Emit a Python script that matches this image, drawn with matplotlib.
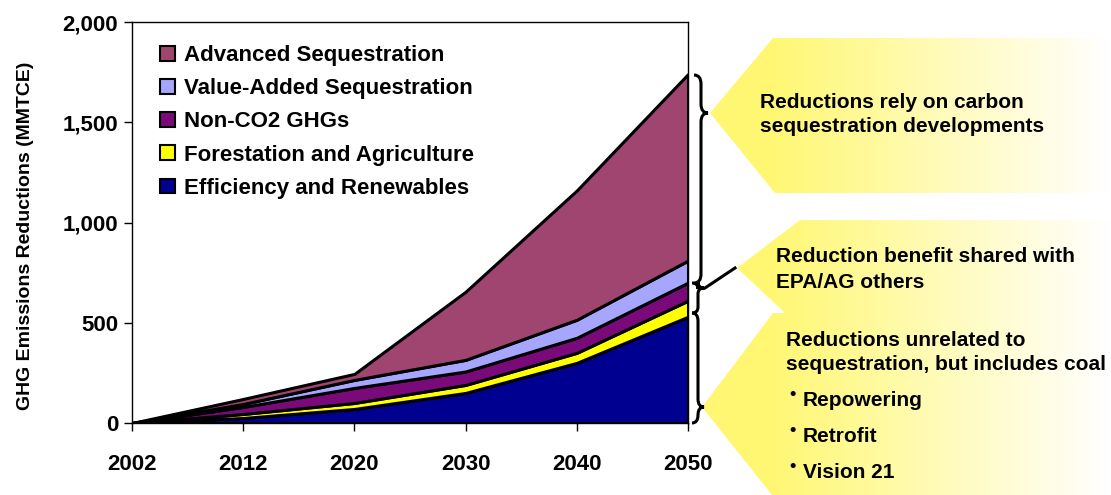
import numpy as np
import matplotlib.pyplot as plt
from matplotlib.patches import Polygon, PathPatch, Patch
from matplotlib.path import Path
from matplotlib.ticker import FuncFormatter

plt.rcParams['font.family'] = ['Liberation Sans', 'DejaVu Sans']

# data (MMTCE)
years = ['2002', '2012', '2020', '2030', '2040', '2050']
efficiency = [0, 25, 70, 150, 300, 530]
forestation = [0, 20, 30, 40, 50, 80]
non_co2 = [0, 35, 75, 67, 75, 90]
value_added = [0, 15, 40, 58, 90, 110]
advanced = [0, 25, 30, 340, 645, 930]

labels = ['Efficiency and Renewables', 'Forestation and Agriculture',
          'Non-CO2 GHGs', 'Value-Added Sequestration', 'Advanced Sequestration']
colors = ['#000090', '#FFFF00', '#7A0A7A', '#A6A6FF', '#A04470']

fig = plt.figure(figsize=(11.11, 4.95), dpi=100)
ax = fig.add_axes([132/1111, 72/495, 556/1111, 401/495])

x = np.arange(len(years))
ax.stackplot(x, efficiency, forestation, non_co2, value_added, advanced,
             colors=colors, edgecolor='black', linewidth=2.2)

ax.set_xlim(0, len(years)-1)
ax.set_ylim(0, 2000)
ax.set_xticks(x)
ax.set_xticklabels(years)
ax.set_yticks([0, 500, 1000, 1500, 2000])
ax.yaxis.set_major_formatter(FuncFormatter(lambda v, p: '{:,.0f}'.format(v)))
ax.tick_params(axis='y', length=6, width=1, pad=4, labelsize=16)
ax.tick_params(axis='x', length=6, width=1, pad=16, labelsize=16)
for lab in ax.get_xticklabels() + ax.get_yticklabels():
    lab.set_fontweight('bold')
for s in ax.spines.values():
    s.set_linewidth(1)
ax.set_ylabel('GHG Emissions Reductions (MMTCE)', fontsize=14,
              fontweight='bold')
ax.yaxis.set_label_coords(-0.176, 0.468)

handles = [Patch(facecolor=c, edgecolor='black', linewidth=1.5, label=l)
           for c, l in zip(colors, labels)][::-1]
ax.legend(handles=handles, loc='upper left', bbox_to_anchor=(0.035, 0.965),
          frameon=False, prop={'size': 16, 'weight': 'bold'},
          handlelength=0.65, handleheight=0.65, handletextpad=0.4,
          labelspacing=0.55, borderaxespad=0)

# overlay in pixel coords for the callouts
ov = fig.add_axes([0, 0, 1, 1])
ov.set_xlim(0, 1111)
ov.set_ylim(495, 0)
ov.axis('off')
ov.patch.set_alpha(0)

yel = np.array([1.0, 0.97, 0.45])
xs = np.linspace(695, 1111, 400)
t = np.clip((xs - 770) / (1111 - 770), 0, 1)
grad = yel[None, :] * (1 - t[:, None]) + np.ones(3)[None, :] * t[:, None]
grad = grad[None, :, :]

callouts = [
    [(710, 113), (773, 38), (1111, 38), (1111, 193), (775, 193)],
    [(737, 268), (800, 220), (1111, 220), (1111, 313), (785, 313)],
    [(702, 407), (773, 313), (1111, 313), (1111, 495), (772, 495)],
]
for pts in callouts:
    poly = Polygon(pts, closed=True, facecolor='none', edgecolor='none')
    ov.add_patch(poly)
    im = ov.imshow(grad, extent=[695, 1111, 495, 0], aspect='auto', zorder=1)
    im.set_clip_path(poly)
ov.set_xlim(0, 1111)
ov.set_ylim(495, 0)


def brace(xs_, y0, y1, ym, w=7, r=9):
    xe, xt = xs_ - w, xs_ + w
    verts = [(xe, y0), (xs_, y0), (xs_, y0 + r),
             (xs_, ym - r),
             (xs_, ym), (xt, ym),
             (xs_, ym), (xs_, ym + r),
             (xs_, y1 - r),
             (xs_, y1), (xe, y1)]
    codes = [Path.MOVETO, Path.CURVE3, Path.CURVE3,
             Path.LINETO,
             Path.CURVE3, Path.CURVE3,
             Path.CURVE3, Path.CURVE3,
             Path.LINETO,
             Path.CURVE3, Path.CURVE3]
    ov.add_patch(PathPatch(Path(verts, codes), facecolor='none',
                           edgecolor='black', linewidth=2.2, zorder=3))


brace(701, 75, 283, 113)
brace(698, 283, 313, 288, w=6, r=6)
ov.plot([705, 735], [288, 268], color='black', linewidth=2.2, zorder=3)
brace(698, 313, 423, 407, w=6, r=8)

tkw = dict(fontsize=15, fontweight='bold', ha='left', va='center', zorder=4)
ov.text(760, 102, 'Reductions rely on carbon', **tkw)
ov.text(760, 127, 'sequestration developments', **tkw)
ov.text(776, 257, 'Reduction benefit shared with', **tkw)
ov.text(776, 282, 'EPA/AG others', **tkw)
ov.text(786, 340, 'Reductions unrelated to', **tkw)
ov.text(786, 364, 'sequestration, but includes coal', **tkw)
for yy, s in zip([400, 436, 472], ['Repowering', 'Retrofit', 'Vision 21']):
    ov.text(789, yy - 6, '\u2022', fontsize=13, fontweight='bold',
            ha='left', va='center', zorder=4)
    ov.text(803, yy, s, **tkw)

fig.savefig('out.png', dpi=100)
